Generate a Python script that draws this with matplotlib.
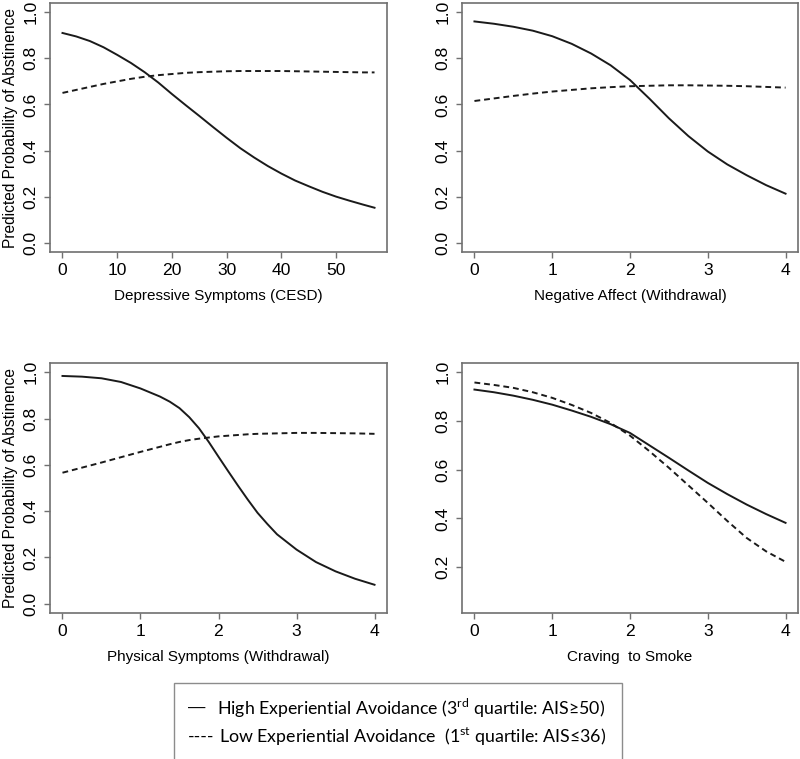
import matplotlib
matplotlib.use('Agg')
import matplotlib.pyplot as plt
from matplotlib.patches import Rectangle

# Fonts
plt.rcParams['font.family'] = ['Liberation Sans', 'DejaVu Sans']
plt.rcParams['mathtext.fontset'] = 'custom'
plt.rcParams['mathtext.rm'] = 'Lato'

# Data (predicted probability of abstinence)
cesd_x = [0, 2.5, 5, 7.5, 10, 12.5, 15, 17.5, 20, 22.5, 25, 27.5, 30, 32.5, 35, 37.5, 40,
          42.5, 45, 47.5, 50, 52.5, 55, 57]
cesd_high = [0.91, 0.895, 0.875, 0.848, 0.815, 0.78, 0.74, 0.695, 0.645, 0.597, 0.55, 0.502,
             0.455, 0.41, 0.37, 0.333, 0.30, 0.27, 0.245, 0.221, 0.20, 0.182, 0.165, 0.152]
cesd_low = [0.65, 0.663, 0.676, 0.689, 0.70, 0.711, 0.72, 0.727, 0.732, 0.737, 0.74, 0.742,
            0.744, 0.745, 0.745, 0.745, 0.745, 0.744, 0.743, 0.742, 0.741, 0.740, 0.739, 0.739]

na_x = [0, 0.25, 0.5, 0.75, 1, 1.25, 1.5, 1.75, 2, 2.25, 2.5, 2.75, 3, 3.25, 3.5, 3.75, 4]
na_high = [0.96, 0.95, 0.937, 0.92, 0.896, 0.863, 0.821, 0.77, 0.706, 0.625, 0.54, 0.463,
           0.396, 0.34, 0.293, 0.25, 0.213]
na_low = [0.615, 0.626, 0.637, 0.647, 0.656, 0.663, 0.670, 0.675, 0.679, 0.681, 0.683, 0.683,
          0.682, 0.681, 0.679, 0.676, 0.673]

ps_x = [0, 0.25, 0.5, 0.75, 1, 1.25, 1.375, 1.5, 1.625, 1.75, 1.875, 2, 2.125, 2.25, 2.375,
        2.5, 2.625, 2.75, 3, 3.25, 3.5, 3.75, 4]
ps_high = [0.984, 0.981, 0.974, 0.958, 0.93, 0.895, 0.873, 0.845, 0.806, 0.758, 0.699, 0.635,
           0.572, 0.51, 0.45, 0.393, 0.345, 0.30, 0.234, 0.18, 0.14, 0.108, 0.082]
ps_low = [0.566, 0.588, 0.610, 0.633, 0.656, 0.678, 0.689, 0.699, 0.707, 0.713, 0.718, 0.723,
          0.726, 0.729, 0.732, 0.734, 0.735, 0.736, 0.738, 0.738, 0.737, 0.736, 0.734]

crav_x = [0, 0.25, 0.5, 0.75, 1, 1.25, 1.5, 1.75, 2, 2.25, 2.5, 2.75, 3, 3.25, 3.5, 3.75, 4]
crav_high = [0.929, 0.918, 0.904, 0.887, 0.867, 0.843, 0.817, 0.787, 0.751, 0.70, 0.649, 0.597,
             0.546, 0.50, 0.457, 0.418, 0.382]
crav_low = [0.958, 0.948, 0.936, 0.918, 0.895, 0.866, 0.833, 0.792, 0.740, 0.676, 0.608, 0.536,
            0.464, 0.39, 0.320, 0.265, 0.222]

panels = [
    (cesd_x, cesd_high, cesd_low, 'Depressive Symptoms (CESD)', [0, 10, 20, 30, 40, 50], (0, 1), True),
    (na_x, na_high, na_low, 'Negative Affect (Withdrawal)', [0, 1, 2, 3, 4], (0, 1), False),
    (ps_x, ps_high, ps_low, 'Physical Symptoms (Withdrawal)', [0, 1, 2, 3, 4], (0, 1), True),
    (crav_x, crav_high, crav_low, 'Craving  to Smoke', [0, 1, 2, 3, 4], (0.05, 1), False),
]

W, H = 800, 759
fig = plt.figure(figsize=(W / 100, H / 100), dpi=100)

# axes boxes in pixels: left, top, right, bottom
boxes = [(50, 3, 387, 252), (462, 3, 798, 252), (50, 363, 387, 613), (462, 363, 798, 613)]
BOX_COL = '#707070'
LINE_COL = '#1a1a1a'

for (x, hi, lo, xlabel, xticks, ylim, show_ylabel), (l, t, r, b) in zip(panels, boxes):
    ax = fig.add_axes([l / W, (H - b) / H, (r - l) / W, (b - t) / H])
    ax.plot(x, hi, color=LINE_COL, lw=1.4)
    ax.plot(x, lo, color=LINE_COL, lw=1.4, dashes=(3, 2))

    # R style 4% padding
    xr = x[-1] - x[0]
    ax.set_xlim(x[0] - 0.04 * xr, x[-1] + 0.04 * xr)
    yr = ylim[1] - ylim[0]
    ax.set_ylim(ylim[0] - 0.04 * yr, ylim[1] + 0.04 * yr)

    ax.set_xticks(xticks)
    yt = [v / 10 for v in range(0, 11, 2) if v / 10 >= ylim[0]]
    ax.set_yticks(yt)
    ax.set_yticklabels([f'{v:.1f}' for v in yt], rotation=90, va='center')

    for sp in ax.spines.values():
        sp.set_color(BOX_COL)
        sp.set_linewidth(1.2)
    ax.tick_params(axis='both', colors=BOX_COL, labelcolor='black', length=4.5,
                   width=1.0, labelsize=12.6)
    ax.tick_params(axis='x', pad=3.5)
    ax.tick_params(axis='y', pad=4)

    ax.set_xlabel(xlabel, fontsize=11, labelpad=8)
    if show_ylabel:
        ax.set_ylabel('Predicted Probability of Abstinence', fontsize=11.2, labelpad=4)

# Legend box (text-based, like the original)
fig.patches.append(Rectangle((174 / W, -0.05), (622 - 174) / W, 0.05 + (H - 683) / H,
                             transform=fig.transFigure, fill=False,
                             edgecolor='#8c8c8c', linewidth=1.0))
leg_font = ['Lato', 'DejaVu Sans']
fig.text(188 / W, 1 - 708 / H, '\u2014', fontsize=12.5, family=['Liberation Sans'], va='center')
fig.text(217 / W, 1 - 708 / H, 'High Experiential Avoidance (3$^{\\mathrm{rd}}$ quartile: AIS\u226550)',
         fontsize=12.75, family=leg_font, va='center')
fig.text(188 / W, 1 - 737 / H, '----', fontsize=12.75, family=leg_font, va='center')
fig.text(219 / W, 1 - 737 / H, 'Low Experiential Avoidance  (1$^{\\mathrm{st}}$ quartile: AIS\u226436)',
         fontsize=12.75, family=leg_font, va='center')

fig.savefig('out.png', dpi=100)
